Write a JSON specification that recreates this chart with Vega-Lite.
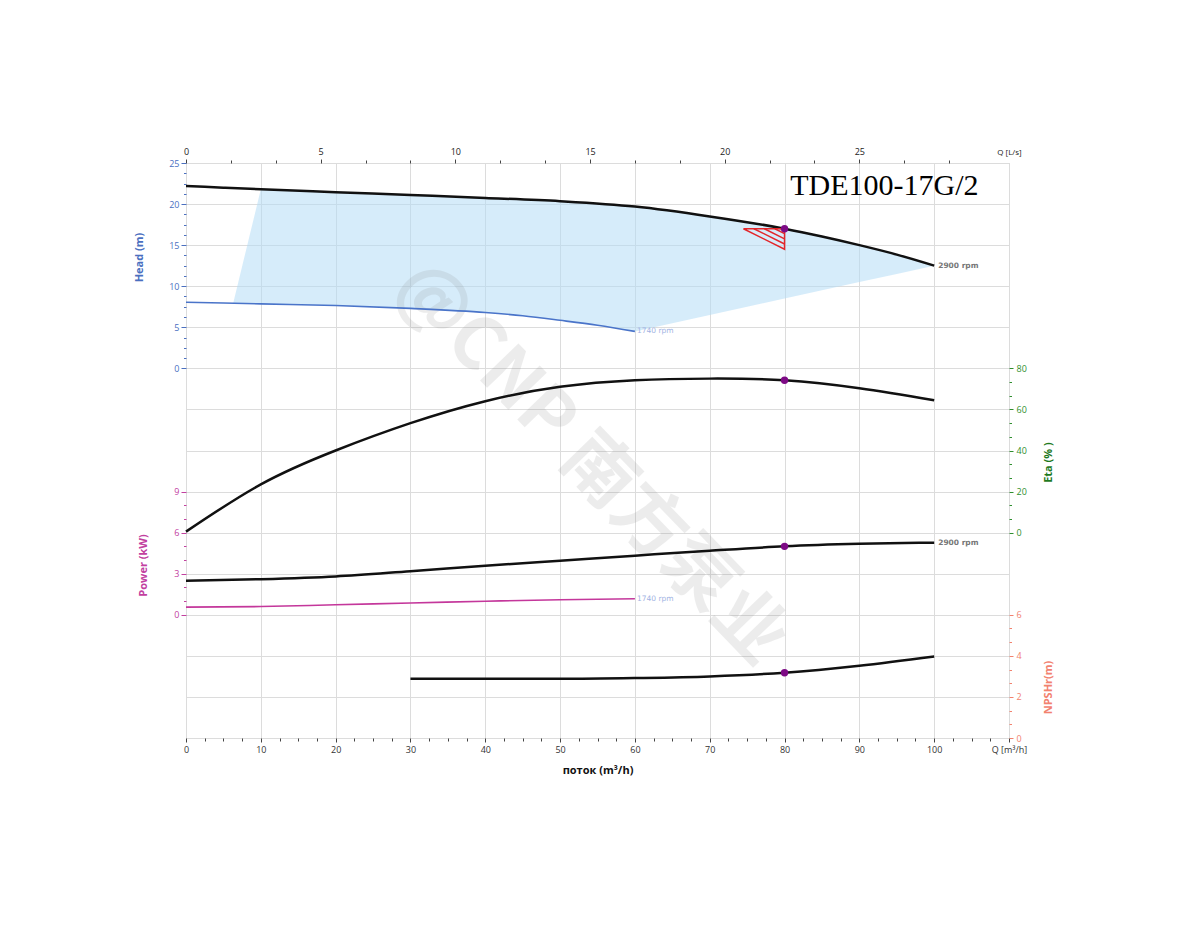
{
  "$schema": "https://vega.github.io/schema/vega-lite/v6.json",
  "width": 823,
  "height": 575,
  "autosize": {"type": "none"},
  "padding": {"left": 186, "top": 163, "right": 191, "bottom": 212},
  "background": "white",
  "config": {
    "view": {"stroke": "#c8c8c8", "strokeWidth": 1},
    "axis": {"domain": false, "labelFont": "Open Sans", "labelFontSize": 9, "titleFont": "Open Sans", "titleFontWeight": "bold", "titleFontSize": 11, "gridColor": "#dcdcdc", "gridWidth": 1, "labelFlush": false, "labelOverlap": false, "labelBound": false, "tickWidth": 1}
  },
  "datasets": {
    "dummy": [{"a": 0, "b": 0}],
    "head2900": [{"Q":0,"H":22.2},{"Q":5,"H":22.0},{"Q":10,"H":21.8},{"Q":20,"H":21.45},{"Q":30,"H":21.1},{"Q":40,"H":20.75},{"Q":50,"H":20.35},{"Q":60,"H":19.7},{"Q":70,"H":18.5},{"Q":80,"H":17.0},{"Q":85,"H":16.05},{"Q":90,"H":15.0},{"Q":95,"H":13.85},{"Q":100,"H":12.5}],
    "head1740": [{"Q":0,"H":8.05},{"Q":10,"H":7.85},{"Q":20,"H":7.65},{"Q":30,"H":7.3},{"Q":40,"H":6.8},{"Q":45,"H":6.4},{"Q":50,"H":5.85},{"Q":55,"H":5.25},{"Q":60,"H":4.5}],
    "band": [{"Q":6.3,"hi":7.9,"lo":7.9},{"Q":10,"hi":21.8,"lo":7.85},{"Q":20,"hi":21.45,"lo":7.65},{"Q":30,"hi":21.1,"lo":7.3},{"Q":40,"hi":20.75,"lo":6.8},{"Q":45,"hi":20.57,"lo":6.4},{"Q":50,"hi":20.35,"lo":5.85},{"Q":55,"hi":20.05,"lo":5.25},{"Q":60,"hi":19.7,"lo":4.5},{"Q":65,"hi":19.15,"lo":5.5},{"Q":70,"hi":18.5,"lo":6.5},{"Q":75,"hi":17.8,"lo":7.5},{"Q":80,"hi":17.0,"lo":8.5},{"Q":85,"hi":16.05,"lo":9.5},{"Q":90,"hi":15.0,"lo":10.5},{"Q":95,"hi":13.85,"lo":11.5},{"Q":100,"hi":12.5,"lo":12.5}],
    "eta": [{"Q":0,"E":0.5},{"Q":10,"E":23.5},{"Q":20,"E":40},{"Q":30,"E":53.3},{"Q":40,"E":64},{"Q":50,"E":71},{"Q":60,"E":74.2},{"Q":70,"E":75},{"Q":80,"E":74.2},{"Q":90,"E":70.3},{"Q":100,"E":64.5}],
    "p2900": [{"Q":0,"P":2.49},{"Q":10,"P":2.6},{"Q":20,"P":2.8},{"Q":30,"P":3.18},{"Q":40,"P":3.58},{"Q":50,"P":3.95},{"Q":60,"P":4.32},{"Q":70,"P":4.68},{"Q":80,"P":5.0},{"Q":90,"P":5.18},{"Q":100,"P":5.27}],
    "p1740": [{"Q":0,"P":0.56},{"Q":10,"P":0.6},{"Q":20,"P":0.73},{"Q":30,"P":0.86},{"Q":40,"P":0.99},{"Q":50,"P":1.1},{"Q":60,"P":1.17}],
    "npsh": [{"Q":30,"N":2.88},{"Q":40,"N":2.88},{"Q":50,"N":2.88},{"Q":60,"N":2.92},{"Q":70,"N":3.0},{"Q":80,"N":3.18},{"Q":90,"N":3.52},{"Q":100,"N":3.97}],
    "tri": [{"seg":"o","i":0,"Q":74.5,"H":17.0},{"seg":"o","i":1,"Q":80,"H":17.0},{"seg":"o","i":2,"Q":80,"H":14.5},{"seg":"o","i":3,"Q":74.5,"H":17.0},{"seg":"h1","i":0,"Q":75.9,"H":17.0},{"seg":"h1","i":1,"Q":80,"H":15.14},{"seg":"h2","i":0,"Q":77.3,"H":17.0},{"seg":"h2","i":1,"Q":80,"H":15.77},{"seg":"h3","i":0,"Q":78.7,"H":17.0},{"seg":"h3","i":1,"Q":80,"H":16.41}]
  },
  "layer": [
    {"data": {"name": "dummy"}, "mark": {"type": "point", "opacity": 0},
     "encoding": {
       "x": {"field": "a", "type": "quantitative", "scale": {"domain": [0, 110], "nice": false, "zero": false},
             "axis": {"orient": "bottom", "values": [0,10,20,30,40,50,60,70,80,90,100,110], "labelExpr": "datum.value >= 110 ? 'Q [m³/h]' : datum.label", "grid": true, "tickSize": 4, "tickColor": "#444", "labelColor": "#333", "labelPadding": 3, "title": "поток (m³/h)", "titleColor": "#111", "titlePadding": 10}},
       "y": {"field": "b", "type": "quantitative", "scale": {"domain": [0, 1], "nice": false}, "axis": null}}},
    {"data": {"name": "dummy"}, "mark": {"type": "point", "opacity": 0},
     "encoding": {
       "x": {"field": "a", "type": "quantitative", "scale": {"domain": [0, 110], "nice": false, "zero": false},
             "axis": {"orient": "bottom", "values": [2.5,5,7.5,12.5,15,17.5,22.5,25,27.5,32.5,35,37.5,42.5,45,47.5,52.5,55,57.5,62.5,65,67.5,72.5,75,77.5,82.5,85,87.5,92.5,95,97.5,102.5,105,107.5], "labels": false, "grid": false, "tickSize": 3, "tickColor": "#444", "title": null}},
       "y": {"field": "b", "type": "quantitative", "scale": {"domain": [0, 1], "nice": false}, "axis": null}}},
    {"data": {"name": "dummy"}, "mark": {"type": "point", "opacity": 0},
     "encoding": {
       "x": {"field": "a", "type": "quantitative", "scale": {"domain": [0, 30.5556], "nice": false, "zero": false},
             "axis": {"orient": "top", "values": [0,5,10,15,20,25,30.5556], "labelExpr": "datum.value > 30 ? 'Q [L/s]' : datum.label", "labelFontSize": {"condition": {"test": "datum.value > 30", "value": 8}, "value": 9}, "tickOpacity": {"condition": {"test": "datum.value > 30", "value": 0}, "value": 1}, "grid": false, "tickSize": 4, "tickColor": "#444", "labelColor": "#222", "labelPadding": 3, "title": null}},
       "y": {"field": "b", "type": "quantitative", "scale": {"domain": [0, 1], "nice": false}, "axis": null}}},
    {"data": {"name": "dummy"}, "mark": {"type": "point", "opacity": 0},
     "encoding": {
       "x": {"field": "a", "type": "quantitative", "scale": {"domain": [0, 30.5556], "nice": false, "zero": false},
             "axis": {"orient": "top", "values": [1.6667,3.3333,6.6667,8.3333,11.6667,13.3333,16.6667,18.3333,21.6667,23.3333,26.6667,28.3333], "labels": false, "grid": false, "tickSize": 3, "tickColor": "#444", "title": null}},
       "y": {"field": "b", "type": "quantitative", "scale": {"domain": [0, 1], "nice": false}, "axis": null}}},
    {"data": {"name": "dummy"}, "mark": {"type": "point", "opacity": 0},
     "encoding": {
       "x": {"field": "a", "type": "quantitative", "scale": {"domain": [0, 110], "nice": false}, "axis": null},
       "y": {"field": "b", "type": "quantitative", "scale": {"domain": [-45, 25], "nice": false, "zero": false},
             "axis": {"orient": "left", "values": [0,5,10,15,20,25], "grid": true, "tickSize": 5, "tickColor": "#4a6fbf", "labelColor": "#4a6fbf", "labelPadding": 2, "title": "Head (m)", "titleColor": "#4a6fbf", "titleX": -47, "titleY": 94, "titleAngle": 270, "titleAlign": "center", "titleBaseline": "middle"}}}},
    {"data": {"name": "dummy"}, "mark": {"type": "point", "opacity": 0},
     "encoding": {
       "x": {"field": "a", "type": "quantitative", "scale": {"domain": [0, 110], "nice": false}, "axis": null},
       "y": {"field": "b", "type": "quantitative", "scale": {"domain": [-45, 25], "nice": false, "zero": false},
             "axis": {"orient": "left", "values": [1.25,2.5,3.75,6.25,7.5,8.75,11.25,12.5,13.75,16.25,17.5,18.75,21.25,22.5,23.75], "labels": false, "grid": false, "tickSize": 2.5, "tickColor": "#4a6fbf", "title": null}}}},
    {"data": {"name": "dummy"}, "mark": {"type": "point", "opacity": 0},
     "encoding": {
       "x": {"field": "a", "type": "quantitative", "scale": {"domain": [0, 110], "nice": false}, "axis": null},
       "y": {"field": "b", "type": "quantitative", "scale": {"domain": [-100, 180], "nice": false, "zero": false},
             "axis": {"orient": "right", "values": [0,20,40,60,80], "grid": true, "tickSize": 4, "tickColor": "#2f8f2f", "labelColor": "#2f8f2f", "labelPadding": 3, "title": "Eta (% )", "titleColor": "#1f7a1f", "titleX": 39, "titleY": 299, "titleAngle": 270, "titleAlign": "center", "titleBaseline": "middle"}}}},
    {"data": {"name": "dummy"}, "mark": {"type": "point", "opacity": 0},
     "encoding": {
       "x": {"field": "a", "type": "quantitative", "scale": {"domain": [0, 110], "nice": false}, "axis": null},
       "y": {"field": "b", "type": "quantitative", "scale": {"domain": [-100, 180], "nice": false, "zero": false},
             "axis": {"orient": "right", "values": [6.6667,13.3333,26.6667,33.3333,46.6667,53.3333,66.6667,73.3333], "labels": false, "grid": false, "tickSize": 2.5, "tickColor": "#2f8f2f", "title": null}}}},
    {"data": {"name": "dummy"}, "mark": {"type": "point", "opacity": 0},
     "encoding": {
       "x": {"field": "a", "type": "quantitative", "scale": {"domain": [0, 110], "nice": false}, "axis": null},
       "y": {"field": "b", "type": "quantitative", "scale": {"domain": [-9, 33], "nice": false, "zero": false},
             "axis": {"orient": "left", "values": [0,3,6,9], "grid": true, "tickSize": 5, "tickColor": "#c2409f", "labelColor": "#c2409f", "labelPadding": 2, "title": "Power (kW)", "titleColor": "#c2409f", "titleX": -43, "titleY": 402, "titleAngle": 270, "titleAlign": "center", "titleBaseline": "middle"}}}},
    {"data": {"name": "dummy"}, "mark": {"type": "point", "opacity": 0},
     "encoding": {
       "x": {"field": "a", "type": "quantitative", "scale": {"domain": [0, 110], "nice": false}, "axis": null},
       "y": {"field": "b", "type": "quantitative", "scale": {"domain": [-9, 33], "nice": false, "zero": false},
             "axis": {"orient": "left", "values": [1,2,4,5,7,8], "labels": false, "grid": false, "tickSize": 2.5, "tickColor": "#c2409f", "title": null}}}},
    {"data": {"name": "dummy"}, "mark": {"type": "point", "opacity": 0},
     "encoding": {
       "x": {"field": "a", "type": "quantitative", "scale": {"domain": [0, 110], "nice": false}, "axis": null},
       "y": {"field": "b", "type": "quantitative", "scale": {"domain": [0, 28], "nice": false, "zero": false},
             "axis": {"orient": "right", "values": [0,2,4,6], "grid": true, "tickSize": 4, "tickColor": "#f2826f", "labelColor": "#f2826f", "labelPadding": 3, "title": "NPSHr(m)", "titleColor": "#f2826f", "titleX": 39, "titleY": 524, "titleAngle": 270, "titleAlign": "center", "titleBaseline": "middle"}}}},
    {"data": {"name": "dummy"}, "mark": {"type": "point", "opacity": 0},
     "encoding": {
       "x": {"field": "a", "type": "quantitative", "scale": {"domain": [0, 110], "nice": false}, "axis": null},
       "y": {"field": "b", "type": "quantitative", "scale": {"domain": [0, 28], "nice": false, "zero": false},
             "axis": {"orient": "right", "values": [0.6667,1.3333,2.6667,3.3333,4.6667,5.3333], "labels": false, "grid": false, "tickSize": 2.5, "tickColor": "#f2826f", "title": null}}}},

    {"data": {"name": "band"}, "mark": {"type": "area", "color": "#b4dcf6", "opacity": 0.55, "interpolate": "linear"},
     "encoding": {
       "x": {"field": "Q", "type": "quantitative", "scale": {"domain": [0, 110], "nice": false, "zero": false}, "axis": null},
       "y": {"field": "hi", "type": "quantitative", "scale": {"domain": [-45, 25], "nice": false, "zero": false}, "axis": null},
       "y2": {"field": "lo"}}},
    {"data": {"values": [{"Q": 54.1, "H": -11.6, "t": "@CNP 南方泵业"}]},
     "mark": {"type": "text", "font": "Noto Sans CJK SC", "fontWeight": "bold", "fontSize": 72, "angle": 46, "align": "center", "baseline": "middle", "color": "#808080", "opacity": 0.14},
     "encoding": {
       "x": {"field": "Q", "type": "quantitative", "scale": {"domain": [0, 110], "nice": false, "zero": false}, "axis": null},
       "y": {"field": "H", "type": "quantitative", "scale": {"domain": [-45, 25], "nice": false, "zero": false}, "axis": null},
       "text": {"field": "t"}}},
    {"data": {"name": "head1740"}, "mark": {"type": "line", "color": "#4a74c9", "strokeWidth": 1.6, "interpolate": "monotone"},
     "encoding": {
       "x": {"field": "Q", "type": "quantitative", "scale": {"domain": [0, 110], "nice": false, "zero": false}, "axis": null},
       "y": {"field": "H", "type": "quantitative", "scale": {"domain": [-45, 25], "nice": false, "zero": false}, "axis": null}}},
    {"data": {"name": "head2900"}, "mark": {"type": "line", "color": "#111111", "strokeWidth": 2.5, "interpolate": "monotone"},
     "encoding": {
       "x": {"field": "Q", "type": "quantitative", "scale": {"domain": [0, 110], "nice": false, "zero": false}, "axis": null},
       "y": {"field": "H", "type": "quantitative", "scale": {"domain": [-45, 25], "nice": false, "zero": false}, "axis": null}}},
    {"data": {"name": "tri"}, "mark": {"type": "line", "color": "#e3262b", "strokeWidth": 1.5},
     "encoding": {
       "x": {"field": "Q", "type": "quantitative", "scale": {"domain": [0, 110], "nice": false, "zero": false}, "axis": null},
       "y": {"field": "H", "type": "quantitative", "scale": {"domain": [-45, 25], "nice": false, "zero": false}, "axis": null},
       "detail": {"field": "seg"},
       "order": {"field": "i", "type": "quantitative"}}},
    {"data": {"values": [{"Q": 80, "H": 17.0}]}, "mark": {"type": "circle", "color": "#7d0a85", "size": 55, "opacity": 1},
     "encoding": {
       "x": {"field": "Q", "type": "quantitative", "scale": {"domain": [0, 110], "nice": false, "zero": false}, "axis": null},
       "y": {"field": "H", "type": "quantitative", "scale": {"domain": [-45, 25], "nice": false, "zero": false}, "axis": null}}},
    {"data": {"values": [{"Q": 100, "H": 12.5, "t": "2900 rpm"}]}, "mark": {"type": "text", "font": "DejaVu Sans", "fontWeight": "bold", "fontSize": 7.5, "color": "#777777", "align": "left", "baseline": "middle", "dx": 4},
     "encoding": {
       "x": {"field": "Q", "type": "quantitative", "scale": {"domain": [0, 110], "nice": false, "zero": false}, "axis": null},
       "y": {"field": "H", "type": "quantitative", "scale": {"domain": [-45, 25], "nice": false, "zero": false}, "axis": null},
       "text": {"field": "t"}}},
    {"data": {"values": [{"Q": 60, "H": 4.5, "t": "1740 rpm"}]}, "mark": {"type": "text", "font": "DejaVu Sans", "fontSize": 7.5, "color": "#9fb3e3", "align": "left", "baseline": "middle", "dx": 2},
     "encoding": {
       "x": {"field": "Q", "type": "quantitative", "scale": {"domain": [0, 110], "nice": false, "zero": false}, "axis": null},
       "y": {"field": "H", "type": "quantitative", "scale": {"domain": [-45, 25], "nice": false, "zero": false}, "axis": null},
       "text": {"field": "t"}}},
    {"data": {"values": [{"Q": 80.75, "H": 21.1, "t": "TDE100-17G/2"}]}, "mark": {"type": "text", "font": "Liberation Serif", "fontSize": 30, "color": "#000000", "align": "left", "baseline": "alphabetic"},
     "encoding": {
       "x": {"field": "Q", "type": "quantitative", "scale": {"domain": [0, 110], "nice": false, "zero": false}, "axis": null},
       "y": {"field": "H", "type": "quantitative", "scale": {"domain": [-45, 25], "nice": false, "zero": false}, "axis": null},
       "text": {"field": "t"}}},

    {"data": {"name": "eta"}, "mark": {"type": "line", "color": "#111111", "strokeWidth": 2.5, "interpolate": "natural"},
     "encoding": {
       "x": {"field": "Q", "type": "quantitative", "scale": {"domain": [0, 110], "nice": false, "zero": false}, "axis": null},
       "y": {"field": "E", "type": "quantitative", "scale": {"domain": [-100, 180], "nice": false, "zero": false}, "axis": null}}},
    {"data": {"values": [{"Q": 80, "E": 74.2}]}, "mark": {"type": "circle", "color": "#7d0a85", "size": 55, "opacity": 1},
     "encoding": {
       "x": {"field": "Q", "type": "quantitative", "scale": {"domain": [0, 110], "nice": false, "zero": false}, "axis": null},
       "y": {"field": "E", "type": "quantitative", "scale": {"domain": [-100, 180], "nice": false, "zero": false}, "axis": null}}},

    {"data": {"name": "p1740"}, "mark": {"type": "line", "color": "#c4379b", "strokeWidth": 1.6, "interpolate": "monotone"},
     "encoding": {
       "x": {"field": "Q", "type": "quantitative", "scale": {"domain": [0, 110], "nice": false, "zero": false}, "axis": null},
       "y": {"field": "P", "type": "quantitative", "scale": {"domain": [-9, 33], "nice": false, "zero": false}, "axis": null}}},
    {"data": {"name": "p2900"}, "mark": {"type": "line", "color": "#111111", "strokeWidth": 2.5, "interpolate": "monotone"},
     "encoding": {
       "x": {"field": "Q", "type": "quantitative", "scale": {"domain": [0, 110], "nice": false, "zero": false}, "axis": null},
       "y": {"field": "P", "type": "quantitative", "scale": {"domain": [-9, 33], "nice": false, "zero": false}, "axis": null}}},
    {"data": {"values": [{"Q": 80, "P": 5.0}]}, "mark": {"type": "circle", "color": "#7d0a85", "size": 55, "opacity": 1},
     "encoding": {
       "x": {"field": "Q", "type": "quantitative", "scale": {"domain": [0, 110], "nice": false, "zero": false}, "axis": null},
       "y": {"field": "P", "type": "quantitative", "scale": {"domain": [-9, 33], "nice": false, "zero": false}, "axis": null}}},
    {"data": {"values": [{"Q": 100, "P": 5.27, "t": "2900 rpm"}]}, "mark": {"type": "text", "font": "DejaVu Sans", "fontWeight": "bold", "fontSize": 7.5, "color": "#777777", "align": "left", "baseline": "middle", "dx": 4},
     "encoding": {
       "x": {"field": "Q", "type": "quantitative", "scale": {"domain": [0, 110], "nice": false, "zero": false}, "axis": null},
       "y": {"field": "P", "type": "quantitative", "scale": {"domain": [-9, 33], "nice": false, "zero": false}, "axis": null},
       "text": {"field": "t"}}},
    {"data": {"values": [{"Q": 60, "P": 1.17, "t": "1740 rpm"}]}, "mark": {"type": "text", "font": "DejaVu Sans", "fontSize": 7.5, "color": "#9fb3e3", "align": "left", "baseline": "middle", "dx": 2},
     "encoding": {
       "x": {"field": "Q", "type": "quantitative", "scale": {"domain": [0, 110], "nice": false, "zero": false}, "axis": null},
       "y": {"field": "P", "type": "quantitative", "scale": {"domain": [-9, 33], "nice": false, "zero": false}, "axis": null},
       "text": {"field": "t"}}},

    {"data": {"name": "npsh"}, "mark": {"type": "line", "color": "#111111", "strokeWidth": 2.5, "interpolate": "monotone"},
     "encoding": {
       "x": {"field": "Q", "type": "quantitative", "scale": {"domain": [0, 110], "nice": false, "zero": false}, "axis": null},
       "y": {"field": "N", "type": "quantitative", "scale": {"domain": [0, 28], "nice": false, "zero": false}, "axis": null}}},
    {"data": {"values": [{"Q": 80, "N": 3.18}]}, "mark": {"type": "circle", "color": "#7d0a85", "size": 55, "opacity": 1},
     "encoding": {
       "x": {"field": "Q", "type": "quantitative", "scale": {"domain": [0, 110], "nice": false, "zero": false}, "axis": null},
       "y": {"field": "N", "type": "quantitative", "scale": {"domain": [0, 28], "nice": false, "zero": false}, "axis": null}}}
  ],
  "resolve": {"scale": {"x": "independent", "y": "independent"}, "axis": {"x": "independent", "y": "independent"}}
}
